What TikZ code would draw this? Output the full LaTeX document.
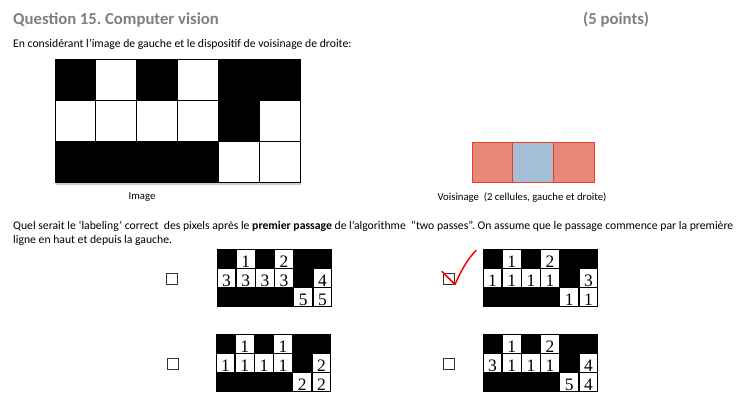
\documentclass[tikz,border=0pt]{standalone}
\usepackage{fontspec}
\setmainfont{Carlito}
\newfontfamily\digitfont{Liberation Serif}
\usetikzlibrary{positioning}
\definecolor{titlegray}{RGB}{127,127,127}
\definecolor{voisred}{RGB}{232,136,120}
\definecolor{voisedge}{RGB}{240,58,36}
\definecolor{voisblue}{RGB}{164,190,216}
\frenchspacing

\begin{document}
\begin{tikzpicture}[x=1pt,y=-1pt,
  txt/.style={anchor=base west,inner sep=0pt,font=\fontsize{11.7}{14}\selectfont},
  head/.style={txt,font=\bfseries\fontsize{16.7}{19}\selectfont,text=titlegray},
  lbl/.style={inner sep=0pt,anchor=base,font=\digitfont\fontsize{17.5}{18}\selectfont},
  chkbox/.style={draw=black!80,line width=0.6pt,minimum size=11pt,inner sep=0pt}]
  \useasboundingbox[fill=white] (0,0) rectangle (747,412);
  \node[head] (title) at (13,25) {Question 15. Computer vision};
  \node[head] (points) at (583,25) {(5 points)};
  \node[txt] (intro) at (13,48) {En considérant l’image de gauche et le dispositif de voisinage de droite:};

  % image de gauche
  \fill[black!20] (56,182.5) rectangle (301,184.5);
  \foreach \c in {0,...,5}
    \foreach \r in {0,1,2}
      \draw[fill=white,line width=0.8pt] (55+40.83*\c,59+41*\r) rectangle ++(40.83,41);
  \foreach \c/\r in {0/0,2/0,4/0,5/0,4/1,0/2,1/2,2/2,3/2}
    \draw[fill=black,line width=0.8pt] (55+40.83*\c,59+41*\r) rectangle ++(40.83,41);
  \node[font=\fontsize{10.7}{12}\selectfont] (imglbl) at (142,197) {Image};

  % voisinage
  \foreach \c/\f in {0/voisred,1/voisblue,2/voisred}
    \draw[fill=\f,draw=voisedge,line width=0.8pt] (472+40.67*\c,142) rectangle ++(40.67,40);
  \node[font=\fontsize{10.7}{12}\selectfont] (voislbl) at (522,198) {Voisinage\ \ (2 cellules, gauche et droite)};

  \node[txt] (q1) at (13,229) {Quel serait le ‘labeling’ correct\ \ des pixels après le \textbf{premier passage} de l’algorithme\ \ “two passes”. On assume que le passage commence par la première};
  \node[txt] (q2) at (13,243) {ligne en haut et depuis la gauche.};

  % reponses
  \foreach \nm/\ox/\oy/\bx/\a/\b/\c/\d/\e/\f/\g/\h/\k in {
      A/217/249/172/1/2/3/3/3/3/4/5/5,
      B/483/249/449/1/2/1/1/1/1/3/1/1,
      C/216/334/173/1/1/1/1/1/1/2/2/2,
      D/483/334/449/1/2/3/1/1/1/4/5/4}{
    \fill (\ox,\oy) rectangle ++(115,58);
    \node[chkbox] (box\nm) at (\bx,\oy+29.5) {};
    \foreach \cc/\rr/\v in {1/0/\a,3/0/\b,0/1/\c,1/1/\d,2/1/\e,3/1/\f,5/1/\g,4/2/\h,5/2/\k}{
      \fill[white] (\ox+19.17*\cc+0.8,\oy+19.33*\rr+0.8) rectangle ++(17.57,17.73);
      \node[lbl] (\nm-\cc-\rr) at (\ox+19.17*\cc+9.58,\oy+19.33*\rr+18) {\v};
    }
  }
  \draw[red,line width=1.5pt,line cap=round,line join=round]
    ([shift={(-7,-7)}]boxB.center) .. controls ([shift={(-1,0)}]boxB.center) .. ([shift={(6,6)}]boxB.center)
    .. controls ([shift={(12,-8)}]boxB.center) and ([shift={(19,-20)}]boxB.center) .. ([shift={(27,-28)}]boxB.center);
\end{tikzpicture}
\end{document}
